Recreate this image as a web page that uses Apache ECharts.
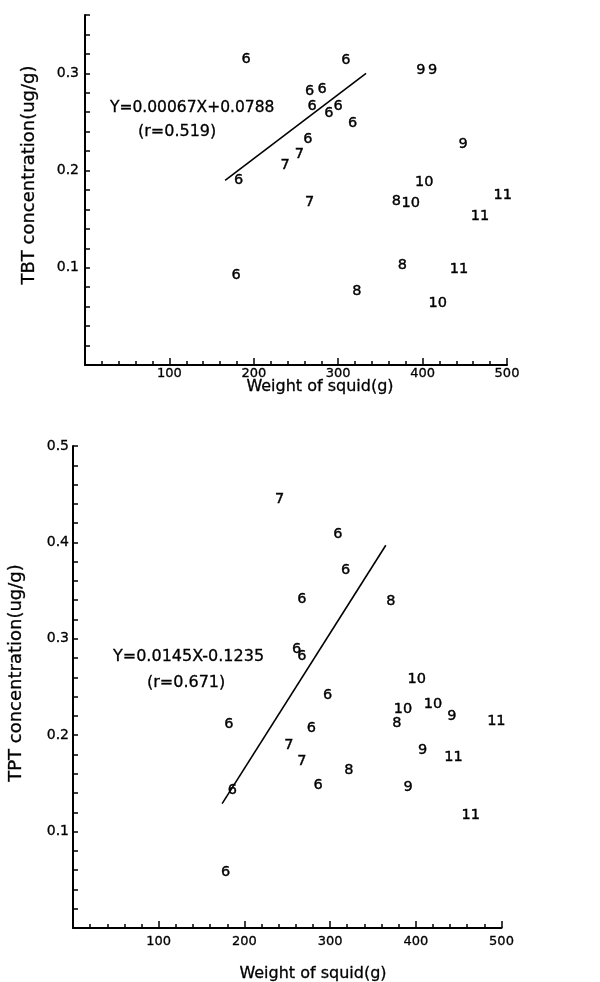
<!DOCTYPE html>
<html>
<head>
<meta charset="utf-8">
<script src="https://cdn.jsdelivr.net/npm/echarts@6/dist/echarts.min.js"></script>
<style>
html,body{margin:0;padding:0;background:#fff;}
#chart{width:600px;height:982px;}
</style>
</head>
<body>
<div id="chart"></div>
<script>
// ---- Top panel: TBT ----
const tbtWeight = [191, 309, 398, 412, 266, 281, 269, 289, 300, 317, 448, 264, 254, 237, 182, 402, 266, 369, 386, 495, 468, 376, 443, 179, 322, 418];
const tbtConc   = [0.315, 0.313, 0.303, 0.303, 0.282, 0.284, 0.266, 0.259, 0.266, 0.249, 0.227, 0.232, 0.217, 0.205, 0.190, 0.1875, 0.167, 0.1686, 0.166, 0.175, 0.153, 0.1028, 0.0983, 0.0925, 0.076, 0.0634];
const tbtMonth  = ['6', '6', '9', '9', '6', '6', '6', '6', '6', '6', '9', '6', '7', '7', '6', '10', '7', '8', '10', '11', '11', '8', '11', '6', '8', '10'];
const tbtLineX  = [166, 333];
const tbtLineY  = [0.190, 0.300];
const tbtEquation = 'Y=0.00067X+0.0788';
const tbtR        = '(r=0.519)';
const tbtYTicks   = ['0.1', '0.2', '0.3'];

// ---- Bottom panel: TPT ----
const tptWeight = [241, 309, 318, 267, 371, 261, 267, 401, 297, 420, 442, 385, 378, 494, 182, 278, 252, 408, 444, 267, 322, 286, 391, 186, 464, 178];
const tptConc   = [0.445, 0.408, 0.371, 0.341, 0.339, 0.289, 0.282, 0.258, 0.241, 0.232, 0.220, 0.227, 0.2125, 0.214, 0.211, 0.207, 0.190, 0.184, 0.177, 0.173, 0.164, 0.148, 0.146, 0.143, 0.117, 0.058];
const tptMonth  = ['7', '6', '6', '6', '8', '6', '6', '10', '6', '10', '9', '10', '8', '11', '6', '6', '7', '9', '11', '7', '8', '6', '9', '6', '11', '6'];
const tptLineX  = [174, 365];
const tptLineY  = [0.129, 0.397];
const tptEquation = 'Y=0.0145X-0.1235';
const tptR        = '(r=0.671)';
const tptYTicks   = ['0.1', '0.2', '0.3', '0.4', '0.5'];

const xTickLabels = ['100', '200', '300', '400', '500'];
const xName = 'Weight of squid(g)';
const tbtYName = 'TBT concentration(ug/g)';
const tptYName = 'TPT concentration(ug/g)';

const FONT = 'DejaVu Sans';
const INK = '#000';

function xAxisOpt(gridIndex, margin) {
  return {
    type: 'value', gridIndex: gridIndex, min: 0, max: 500, interval: 100,
    axisLine: { show: true, onZero: false, lineStyle: { color: INK, width: 2 } },
    axisTick: { show: true, inside: true, length: 7, lineStyle: { color: INK, width: 1.5 } },
    minorTick: { show: true, splitNumber: 5, length: 4, lineStyle: { color: INK, width: 1.5 } },
    splitLine: { show: false }, minorSplitLine: { show: false },
    axisLabel: {
      color: INK, fontFamily: FONT, fontSize: 13, margin: margin,
      textBorderColor: INK, textBorderWidth: 0.3,
      formatter: function (v) { const i = Math.round(v / 100) - 1; return i >= 0 ? xTickLabels[i] : ''; }
    }
  };
}

function yLabelFmt(labels) {
  return function (v) {
    const k = Math.round(v * 100);
    if (k % 10 !== 0) return '';
    const i = k / 10 - 1;
    return (i >= 0 && i < labels.length) ? labels[i] : '';
  };
}

function pts(xs, ys, ms) { return xs.map((x, i) => [x, ys[i], ms[i]]); }

const labelSeries = (xi, data) => ({
  type: 'scatter', xAxisIndex: xi, yAxisIndex: xi, data: data,
  symbol: 'circle', symbolSize: 6, itemStyle: { color: 'rgba(0,0,0,0)', opacity: 1 },
  silent: true,
  label: { show: true, position: 'inside', color: INK, opacity: 1, fontFamily: FONT, fontSize: 14.5,
    textBorderWidth: 0.4, textBorderColor: INK,
    formatter: p => p.value[2] }
});

const lineSeries = (xi, xs, ys) => ({
  type: 'line', xAxisIndex: xi, yAxisIndex: xi, data: xs.map((x, i) => [x, ys[i]]),
  symbol: 'none', lineStyle: { color: INK, width: 1.6 }, silent: true
});

const txt = (x, y, s, size, align, rot) => ({
  type: 'text', x: x, y: y, rotation: rot || 0,
  style: { text: s, fill: INK, stroke: INK, lineWidth: 0.3, font: size + 'px "' + FONT + '"', align: align || 'left', verticalAlign: 'middle' }
});

const chart = echarts.init(document.getElementById('chart'), null, { renderer: 'canvas' });
chart.setOption({
  backgroundColor: '#fff',
  animation: false,
  grid: [
    { left: 85, top: 15, width: 422, height: 350 },
    { left: 73, top: 446, width: 428.5, height: 482 }
  ],
  xAxis: [xAxisOpt(0, 2), xAxisOpt(1, 7)],
  yAxis: [
    {
      type: 'value', gridIndex: 0, min: 0, max: 0.36, interval: 0.02,
      axisLine: { show: true, onZero: false, lineStyle: { color: INK, width: 2 } },
      axisTick: { show: true, inside: true, length: 5, lineStyle: { color: INK, width: 1.5 } },
      splitLine: { show: false },
      axisLabel: { color: INK, fontFamily: FONT, fontSize: 14, margin: 6, textBorderColor: INK, textBorderWidth: 0.3, formatter: yLabelFmt(tbtYTicks) }
    },
    {
      type: 'value', gridIndex: 1, min: 0, max: 0.5, interval: 0.1,
      axisLine: { show: true, onZero: false, lineStyle: { color: INK, width: 2 } },
      axisTick: { show: true, inside: true, length: 5, lineStyle: { color: INK, width: 1.5 } },
      minorTick: { show: true, splitNumber: 5, length: 5, lineStyle: { color: INK, width: 1.5 } },
      splitLine: { show: false }, minorSplitLine: { show: false },
      axisLabel: { color: INK, fontFamily: FONT, fontSize: 14, margin: 4, textBorderColor: INK, textBorderWidth: 0.3, formatter: yLabelFmt(tptYTicks) }
    }
  ],
  series: [
    lineSeries(0, tbtLineX, tbtLineY),
    labelSeries(0, pts(tbtWeight, tbtConc, tbtMonth)),
    lineSeries(1, tptLineX, tptLineY),
    labelSeries(1, pts(tptWeight, tptConc, tptMonth))
  ],
  graphic: [
    txt(320, 387, xName, 16, 'center'),
    txt(29, 175, tbtYName, 18, 'center', Math.PI / 2),
    txt(110, 108, tbtEquation, 15.5, 'left'),
    txt(138, 132, tbtR, 16, 'left'),
    txt(313, 974, xName, 16, 'center'),
    txt(16, 673, tptYName, 18, 'center', Math.PI / 2),
    txt(113, 657, tptEquation, 16, 'left'),
    txt(147, 683, tptR, 16, 'left')
  ]
});
</script>
</body>
</html>
